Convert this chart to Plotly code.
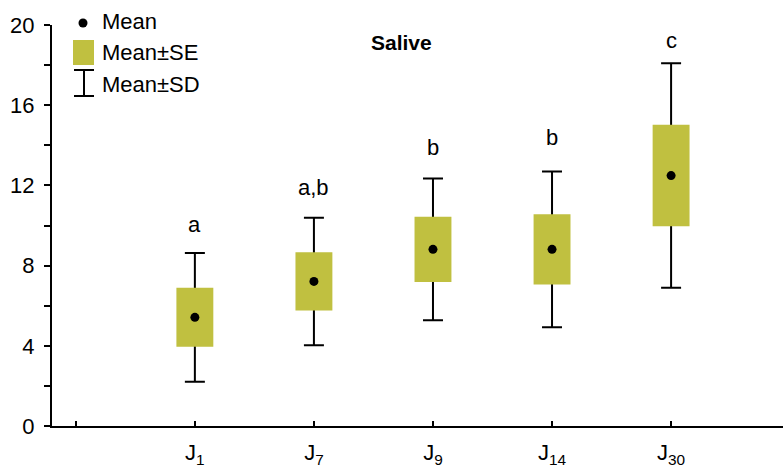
import plotly.graph_objects as go

# ---- data ----
categories = ["J<sub>1</sub>", "J<sub>7</sub>", "J<sub>9</sub>", "J<sub>14</sub>", "J<sub>30</sub>"]
means = [5.42, 7.21, 8.81, 8.81, 12.49]
se = [1.47, 1.45, 1.63, 1.75, 2.53]
sd = [3.21, 3.18, 3.54, 3.88, 5.60]
letters = ["a", "a,b", "b", "b", "c"]
letter_y = [10.05, 11.9, 13.9, 14.4, 19.25]
y_tickvals = [0, 4, 8, 12, 16, 20]

OLIVE = "#C0C040"
FONT = "Liberation Sans, Arial, sans-serif"
FS = 22
W, H = 783, 469
L, R, T, B = 52, 783, 25, 426

xpos = list(range(1, len(categories) + 1))
half_box = 0.155

def px(x):
    return (x - L) / (R - L)

def py(y):
    return (B - y) / (B - T)

fig = go.Figure()

# SD whiskers (drawn first, so boxes cover them)
fig.add_trace(go.Scatter(
    x=xpos, y=means, mode="markers",
    marker=dict(color="rgba(0,0,0,0)", size=1),
    error_y=dict(type="data", array=sd, symmetric=True, color="black",
                 thickness=2, width=10),
    showlegend=False, hoverinfo="skip"))

# SE boxes
bx, by = [], []
for xi, m, s in zip(xpos, means, se):
    bx += [xi - half_box, xi + half_box, xi + half_box, xi - half_box, xi - half_box, None]
    by += [m - s, m - s, m + s, m + s, m - s, None]
fig.add_trace(go.Scatter(x=bx, y=by, mode="lines", fill="toself",
                         fillcolor=OLIVE, line=dict(width=0, color=OLIVE),
                         showlegend=False, hoverinfo="skip"))

# means
fig.add_trace(go.Scatter(x=xpos, y=means, mode="markers",
                         marker=dict(color="black", size=9),
                         showlegend=False))

# significance letters
for xi, t, ly in zip(xpos, letters, letter_y):
    fig.add_annotation(x=xi, y=ly, text=t, showarrow=False,
                       font=dict(family=FONT, size=FS, color="black"))

# title
fig.add_annotation(x=px(401), y=py(29), xref="paper", yref="paper",
                   text="<b>Salive</b>", showarrow=False,
                   font=dict(family=FONT, size=21, color="black"))

# manual legend
shapes = [
    dict(type="circle", xref="paper", yref="paper",
         x0=px(78.5), x1=px(87.5), y0=py(27.5), y1=py(18.5),
         fillcolor="black", line=dict(width=0)),
    dict(type="rect", xref="paper", yref="paper",
         x0=px(73), x1=px(94), y0=py(65), y1=py(40),
         fillcolor=OLIVE, line=dict(width=0)),
    dict(type="line", xref="paper", yref="paper",
         x0=px(84), x1=px(84), y0=py(70), y1=py(96), line=dict(color="black", width=2)),
    dict(type="line", xref="paper", yref="paper",
         x0=px(74), x1=px(94), y0=py(70), y1=py(70), line=dict(color="black", width=2)),
    dict(type="line", xref="paper", yref="paper",
         x0=px(74), x1=px(94), y0=py(96), y1=py(96), line=dict(color="black", width=2)),
]
for txt, yy in [("Mean", 22), ("Mean±SE", 53), ("Mean±SD", 84)]:
    fig.add_annotation(x=px(100), y=py(yy), xref="paper", yref="paper",
                       text=txt, showarrow=False, xanchor="left", yanchor="middle",
                       font=dict(family=FONT, size=FS, color="black"))

fig.update_layout(
    width=W, height=H,
    margin=dict(l=L, r=W - R, t=T, b=H - B, autoexpand=False),
    paper_bgcolor="white", plot_bgcolor="white",
    showlegend=False,
    shapes=shapes,
    font=dict(family=FONT, size=FS, color="black"),
    xaxis=dict(range=[-0.2, 5.94], tickvals=[0] + xpos, ticktext=[""] + categories,
               ticks="inside", ticklen=5, tickwidth=2, tickcolor="black",
               showline=True, linecolor="black", linewidth=2, automargin=False,
               showgrid=False, zeroline=False, ticklabelstandoff=6,
               tickfont=dict(family=FONT, size=FS, color="black")),
    yaxis=dict(range=[0, 20], tickvals=y_tickvals, automargin=False,
               ticks="outside", ticklen=6, tickwidth=2, tickcolor="black",
               minor=dict(dtick=2, ticks="outside", ticklen=6, tickwidth=2, tickcolor="black"),
               showline=True, linecolor="black", linewidth=2,
               showgrid=False, zeroline=False, ticklabelstandoff=5,
               tickfont=dict(family=FONT, size=FS, color="black")),
)

fig.write_html("out.html")
